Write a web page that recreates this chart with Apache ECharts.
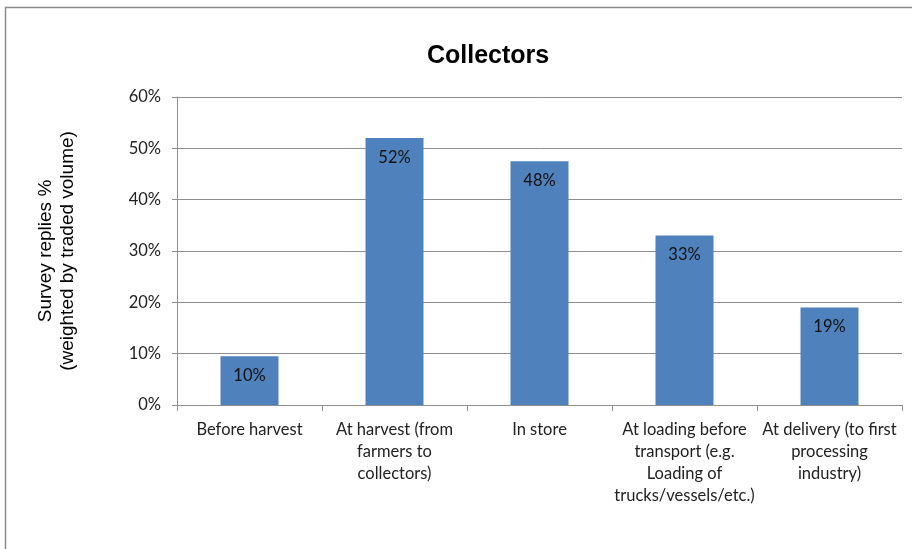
<!DOCTYPE html>
<html>
<head>
<meta charset="utf-8">
<script src="https://cdn.jsdelivr.net/npm/echarts@6/dist/echarts.min.js"></script>
<style>html,body{margin:0;padding:0;background:#fff}#c{width:912px;height:549px}</style>
</head>
<body>
<div id="c"></div>
<script>
var categories = [
  "Before harvest",
  "At harvest (from\nfarmers to\ncollectors)",
  "In store",
  "At loading before\ntransport (e.g.\nLoading of\ntrucks/vessels/etc.)",
  "At delivery (to first\nprocessing\nindustry)"
];
var values = [9.5, 52, 47.5, 33, 19];
var valueLabels = ["10%", "52%", "48%", "33%", "19%"];
var yTicks = [0, 10, 20, 30, 40, 50, 60];

var chart = echarts.init(document.getElementById('c'));
var gridColor = '#8e8e8e';
chart.setOption({
  animation: false,
  backgroundColor: '#fff',
  title: {
    text: 'Collectors',
    left: 422, top: 39,
    textStyle: {fontFamily: 'Liberation Sans, Arial', fontWeight: 'bold', fontSize: 25, color: '#000'}
  },
  graphic: [{
    type: 'rect', shape: {x: 5.5, y: 7.5, width: 940, height: 600},
    style: {fill: 'none', stroke: '#8a8a8a', lineWidth: 1.5}, silent: true
  }],
  grid: {left: 177, right: 10, top: 97, bottom: 144},
  xAxis: {
    type: 'category',
    data: categories,
    axisLine: {lineStyle: {color: gridColor, width: 1}},
    axisTick: {show: true, alignWithLabel: false, length: 6, lineStyle: {color: gridColor}},
    axisLabel: {interval: 0, margin: 14, fontFamily: 'Lato, Open Sans, sans-serif', fontSize: 16.5, lineHeight: 22, color: '#222'}
  },
  yAxis: {
    type: 'value',
    min: 0, max: 60, interval: 10,
    name: 'Survey replies %\n(weighted by traded volume)',
    nameLocation: 'middle',
    nameGap: 98,
    nameTextStyle: {fontFamily: 'Liberation Sans, Arial', fontSize: 19, lineHeight: 22, color: '#000'},
    axisLine: {show: true, lineStyle: {color: gridColor, width: 1}},
    axisTick: {show: true, inside: false, length: 5, lineStyle: {color: gridColor}},
    splitLine: {lineStyle: {color: gridColor, width: 1}},
    axisLabel: {
      margin: 16,
      fontFamily: 'Lato, Open Sans, sans-serif', fontSize: 16.5, color: '#222',
      formatter: function (v) { return yTicks.indexOf(v) >= 0 ? v + '%' : ''; }
    }
  },
  series: [{
    type: 'bar',
    data: values,
    barWidth: '40%',
    itemStyle: {color: '#4f81bd'},
    label: {
      show: true, position: 'insideTop', distance: 11,
      fontFamily: 'Lato, Open Sans, sans-serif', fontSize: 16.5, color: '#111',
      formatter: function (p) { return valueLabels[p.dataIndex]; }
    }
  }]
});
</script>
</body>
</html>
